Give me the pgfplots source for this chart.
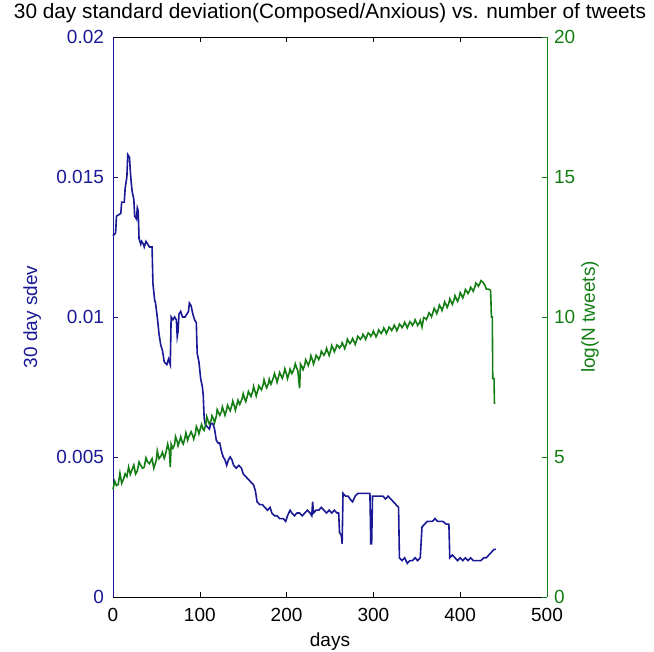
\documentclass[border=0pt]{standalone}
\usepackage{pgfplots}
\pgfplotsset{compat=1.18}
\usepackage{fontspec}
\setmainfont{Liberation Sans}
\definecolor{mblue}{RGB}{25,25,150}
\definecolor{mgreen}{RGB}{20,125,20}
\begin{document}
\begin{tikzpicture}
\pgfplotsset{
  every axis y label/.style={rotate=90,anchor=center},
  every tick label/.append style={font=\fontsize{9.5}{11}\selectfont},
  every axis title shift=0pt,
}
\begin{axis}[
  scale only axis, width=217pt, height=280pt,
  xmin=0, xmax=500, ymin=0, ymax=0.02,
  axis x line=box, axis y line*=left,
  x axis line style={black,-}, y axis line style={mblue,-},
  tick align=inside, major tick length=2.5pt,
  xtick={0,100,200,300,400,500}, xticklabels={0,100,200,300,400,500},
  ytick={0,0.005,0.01,0.015,0.02}, yticklabels={0,0.005,0.01,0.015,0.02},
  scaled y ticks=false, scaled x ticks=false,
  x tick style={black}, y tick style={mblue},
  y tick label style={mblue, xshift=-1pt},
  x tick label style={black, yshift=-2pt},
  xlabel={days}, xlabel style={font=\fontsize{9.5}{11}\selectfont, at={(axis description cs:0.5,0)}, anchor=base, yshift=-25pt},
  ylabel={30 day sdev}, ylabel style={font=\fontsize{9.5}{11}\selectfont, mblue, at={(axis description cs:-0.186,0.5)}},
  title={30 day standard deviation(Composed/Anxious) vs. number of tweets},
  title style={font=\fontsize{10.4}{12}\selectfont, at={(axis description cs:0.5,1)}, anchor=base, yshift=9pt},
  clip=false,
]
\addplot[mblue, line width=0.8pt] coordinates {
(0,0.0129)(3,0.0130)(4,0.0136)(9,0.0137)(10,0.0141)(13,0.0141)(14,0.0146)(16,0.0150)(17,0.0158)(19,0.0157)
(20,0.0152)(21,0.0148)(22,0.0145)(24,0.0142)(25,0.0136)(27,0.0135)(28,0.0139)(29,0.0138)(30,0.0128)(32,0.0126)
(33,0.0127)(35,0.0126)(36,0.0125)(38,0.0127)(40,0.0126)(42,0.0125)(45,0.0125)(46,0.0112)(48,0.0106)(49,0.0105)
(51,0.0100)(53,0.0094)(55,0.0090)(57,0.0088)(59,0.0084)(62,0.0083)(64,0.0085)(66,0.0083)(67,0.0100)(69,0.0099)
(71,0.0100)(73,0.0099)(74,0.0093)(75,0.0095)(76,0.0101)(78,0.0102)(80,0.0100)(83,0.0100)(85,0.0101)(87,0.0102)
(88,0.0105)(90,0.0104)(92,0.0101)(94,0.0099)(96,0.0098)(97,0.0087)(99,0.0084)(101,0.0078)(103,0.0075)(104,0.0072)
(105,0.0064)(106,0.0062)(108,0.0061)(111,0.0060)(113,0.0062)(115,0.0062)(117,0.0060)(119,0.0056)(121,0.0055)(123,0.0055)
(125,0.0052)(127,0.0050)(129,0.0049)(131,0.0047)(133,0.0049)(135,0.0050)(137,0.0049)(139,0.0047)(142,0.0046)(145,0.0047)
(148,0.0046)(150,0.0044)(153,0.0043)(156,0.0042)(159,0.0041)(162,0.0040)(164,0.0038)(166,0.0034)(169,0.0033)(172,0.0033)
(175,0.0032)(178,0.0031)(181,0.0032)(183,0.0030)(186,0.0029)(189,0.0029)(192,0.0028)(196,0.0028)(199,0.0027)(201,0.0029)
(204,0.0031)(206,0.0030)(209,0.0029)(212,0.0030)(215,0.0030)(218,0.0029)(221,0.0030)(224,0.0031)(227,0.0030)(229,0.0029)
(230,0.0034)(231,0.0030)(234,0.0031)(237,0.0031)(240,0.0032)(243,0.0031)(246,0.0030)(249,0.0031)(252,0.0030)(255,0.0031)
(258,0.0030)(260,0.0030)(261,0.0023)(263,0.0022)(264,0.0019)(265,0.0037)(268,0.0036)(271,0.0036)(273,0.0035)(276,0.0034)
(279,0.0036)(282,0.0037)(285,0.0037)(288,0.0037)(291,0.0037)(294,0.0037)(296,0.0037)(297,0.0019)(298,0.0019)(299,0.0036)
(302,0.0036)(305,0.0036)(308,0.0036)(311,0.0036)(314,0.0035)(317,0.0036)(320,0.0035)(323,0.0034)(326,0.0033)(329,0.0032)
(330,0.0014)(333,0.0013)(336,0.0014)(339,0.0012)(342,0.0013)(345,0.0013)(348,0.0014)(351,0.0013)(354,0.0014)(356,0.0025)
(359,0.0026)(362,0.0027)(365,0.0027)(368,0.0027)(371,0.0028)(374,0.0027)(377,0.0027)(380,0.0027)(384,0.0026)(387,0.0026)
(388,0.0014)(391,0.0015)(394,0.0014)(397,0.0013)(400,0.0014)(403,0.0013)(406,0.0014)(409,0.0013)(412,0.0014)(415,0.0013)
(418,0.0013)(421,0.0013)(424,0.0013)(427,0.0014)(430,0.0014)(433,0.0015)(436,0.0016)(439,0.0017)(441,0.0017)
};
\end{axis}
\begin{axis}[
  scale only axis, width=217pt, height=280pt,
  xmin=0, xmax=500, ymin=0, ymax=20,
  axis x line=none, axis y line*=right,
  y axis line style={mgreen,-},
  tick align=inside, major tick length=2.5pt,
  ytick={0,5,10,15,20}, yticklabels={0,5,10,15,20},
  y tick style={mgreen},
  y tick label style={mgreen, xshift=0pt},
  ylabel={log(N tweets)}, ylabel style={font=\fontsize{9.5}{11}\selectfont, mgreen, at={(axis description cs:1.099,0.5)}},
  clip=false,
]
\addplot[mgreen, line width=0.8pt] coordinates {
(0,3.85)(2,4.14)(4,3.98)(6,4.02)(8,4.42)(10,4.06)(12,4.20)(14,4.40)(16,4.30)(18,4.64)(20,4.38)(22,4.55)
(24,4.71)(26,4.39)(28,4.50)(30,4.82)(32,4.70)(34,4.60)(36,4.64)(38,4.97)(40,4.82)(42,4.76)(45,4.94)(47,4.60)
(48,4.70)(50,4.90)(51,5.22)(53,4.94)(55,5.02)(57,5.17)(59,4.95)(60,5.04)(62,5.30)(63,5.46)(65,5.20)(66,4.64)
(67,5.46)(69,5.31)(71,5.45)(72,5.73)(74,5.55)(75,5.40)(77,5.60)(78,5.72)(80,5.50)(81,5.46)(83,5.70)(84,5.86)
(86,5.60)(87,5.70)(90,5.90)(92,5.75)(93,5.64)(95,5.85)(96,6.09)(98,5.95)(99,5.83)(101,6.05)(102,6.16)(104,5.98)
(105,5.95)(107,6.20)(108,6.44)(110,6.25)(111,6.18)(113,6.30)(114,6.47)(116,6.35)(117,6.23)(119,6.45)(120,6.69)
(122,6.55)(123,6.49)(125,6.62)(126,6.79)(128,6.60)(129,6.49)(131,6.70)(132,6.85)(134,6.72)(135,6.65)(137,6.85)
(138,7.00)(140,6.80)(141,6.67)(143,6.90)(144,7.03)(146,6.88)(147,6.95)(149,7.10)(150,7.26)(152,7.05)(153,6.98)
(155,7.20)(156,7.34)(158,7.22)(159,7.16)(161,7.35)(162,7.52)(164,7.30)(165,7.18)(167,7.40)(168,7.54)(170,7.45)
(171,7.40)(173,7.58)(174,7.76)(176,7.55)(177,7.47)(179,7.62)(180,7.78)(182,7.60)(183,7.68)(185,7.85)(186,7.98)
(188,7.80)(189,7.67)(191,7.90)(192,8.02)(194,7.88)(195,7.81)(197,8.00)(198,8.15)(200,7.95)(201,7.80)(203,8.00)
(204,8.14)(206,7.98)(207,8.03)(209,8.20)(210,8.33)(212,8.15)(213,8.07)(215,7.45)(216,8.32)(218,8.20)(219,8.12)
(221,8.30)(222,8.47)(224,8.35)(225,8.27)(227,8.45)(228,8.62)(230,8.45)(231,8.32)(233,8.50)(234,8.63)(236,8.55)
(237,8.48)(239,8.62)(240,8.78)(242,8.68)(243,8.63)(245,8.75)(246,8.88)(248,8.72)(249,8.63)(251,8.82)(252,8.98)
(254,8.85)(255,8.76)(257,8.90)(258,9.00)(260,8.95)(261,8.89)(263,8.98)(264,9.08)(266,8.95)(267,8.87)(269,9.05)
(270,9.21)(272,9.10)(273,9.05)(275,9.15)(276,9.23)(278,9.10)(279,9.02)(281,9.20)(282,9.31)(284,9.25)(285,9.20)
(287,9.28)(288,9.38)(290,9.28)(291,9.20)(293,9.35)(294,9.43)(296,9.38)(297,9.31)(299,9.40)(300,9.50)(302,9.36)
(303,9.29)(305,9.42)(306,9.54)(308,9.46)(309,9.41)(311,9.52)(312,9.61)(314,9.50)(315,9.41)(317,9.55)(318,9.64)
(320,9.58)(321,9.52)(323,9.62)(324,9.71)(326,9.60)(327,9.51)(329,9.65)(330,9.75)(332,9.68)(333,9.62)(335,9.72)
(336,9.81)(338,9.70)(339,9.61)(341,9.75)(342,9.83)(344,9.76)(345,9.70)(347,9.80)(348,9.90)(350,9.78)(351,9.70)
(353,9.80)(354,9.88)(356,9.64)(358,9.98)(360,9.95)(361,9.91)(363,10.05)(364,10.15)(366,10.08)(367,10.01)(369,10.20)
(370,10.31)(372,10.20)(373,10.12)(375,10.30)(376,10.43)(378,10.32)(379,10.23)(381,10.40)(382,10.54)(384,10.42)
(385,10.34)(387,10.50)(388,10.65)(390,10.52)(391,10.45)(393,10.62)(394,10.76)(396,10.62)(397,10.56)(399,10.72)
(400,10.87)(402,10.75)(403,10.68)(405,10.85)(406,10.98)(408,10.90)(409,10.84)(411,10.95)(412,11.06)(414,10.98)
(415,10.92)(417,11.08)(418,11.21)(420,11.15)(421,11.10)(423,11.22)(424,11.30)(426,11.25)(427,11.20)(429,11.10)
(430,11.00)(433,10.99)(435,10.95)(436,10.0)(437,10.0)(437.5,7.8)(439,7.8)(439.5,6.9)
};
\end{axis}
\pgfresetboundingbox
\path (-56.5pt,-27.5pt) rectangle (270.5pt,298.5pt);
\end{tikzpicture}
\end{document}
